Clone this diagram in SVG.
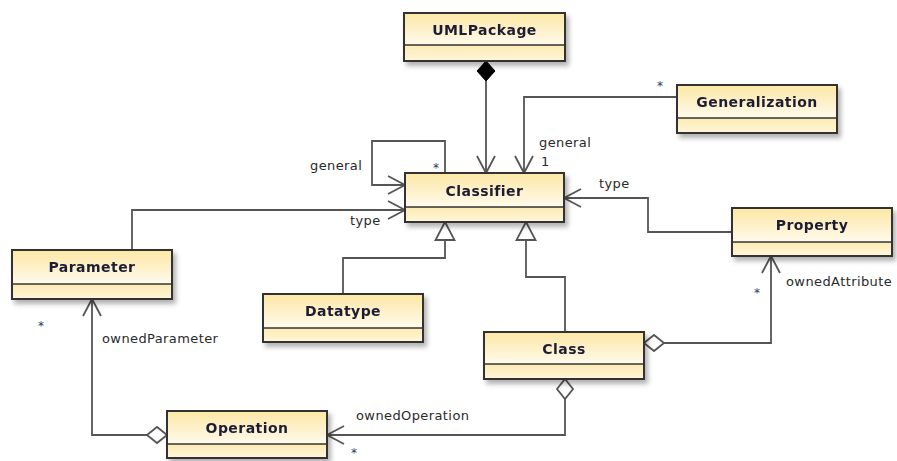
<svg xmlns="http://www.w3.org/2000/svg" width="897" height="461" viewBox="0 0 897 461">
  <defs>
    <style>
      .node .head { fill: url(#headFill); }
      .node .body { fill: url(#bodyFill); }
      .node .frame { fill: none; stroke: #333; stroke-width: 2; }
      .node .div { stroke: #333; stroke-width: 1.6; }
      .node .name { font-family: "DejaVu Sans", Verdana, sans-serif; font-weight: bold; font-size: 14px; letter-spacing: 0.45px; fill: #1c1c34; text-anchor: middle; }
      .edge { fill: none; stroke: #555; stroke-width: 1.8; }
      .lbl { font-family: "DejaVu Sans", Verdana, sans-serif; font-size: 13px; letter-spacing: 0.4px; fill: #2a2a2a; }
      .mult { font-family: "DejaVu Sans", Verdana, sans-serif; font-size: 12px; fill: #2b3b66; text-anchor: middle; }
    </style>
    <linearGradient id="headFill" x1="0" y1="0" x2="0" y2="1">
      <stop offset="0" stop-color="#fce7a4"/>
      <stop offset="1" stop-color="#fffaec"/>
    </linearGradient>
    <linearGradient id="bodyFill" x1="0" y1="0" x2="0" y2="1">
      <stop offset="0" stop-color="#fcebb2"/>
      <stop offset="1" stop-color="#fff6da"/>
    </linearGradient>
    <filter id="shadow" x="-10%" y="-20%" width="130%" height="160%">
      <feDropShadow dx="3" dy="4" stdDeviation="2.5" flood-color="#000" flood-opacity="0.3"/>
    </filter>
    <!-- navigable end: open arrow -->
    <marker id="open" viewBox="-20 -11 22 22" markerWidth="22" markerHeight="22" refX="0" refY="0" markerUnits="userSpaceOnUse" orient="auto">
      <path d="M-17,-9 L0,0 L-17,9" fill="none" stroke="#555" stroke-width="1.8"/>
    </marker>
    <!-- generalization: hollow triangle -->
    <marker id="tri" viewBox="-20 -11 22 22" markerWidth="22" markerHeight="22" refX="0" refY="0" markerUnits="userSpaceOnUse" orient="auto">
      <path d="M0,0 L-18,-9.5 L-18,9.5 Z" fill="#fff" stroke="#555" stroke-width="1.8"/>
    </marker>
    <!-- aggregation: hollow diamond -->
    <marker id="agg" viewBox="-2 -11 26 22" markerWidth="26" markerHeight="22" refX="0" refY="0" markerUnits="userSpaceOnUse" orient="auto">
      <path d="M0,0 L10,-8 L20,0 L10,8 Z" fill="#fff" stroke="#555" stroke-width="1.8"/>
    </marker>
    <!-- composition: filled diamond -->
    <marker id="comp" viewBox="-2 -11 26 22" markerWidth="26" markerHeight="22" refX="0" refY="0" markerUnits="userSpaceOnUse" orient="auto">
      <path d="M0,0 L10,-9 L20,0 L10,9 Z" fill="#000" stroke="#000" stroke-width="1"/>
    </marker>
  </defs>

  <rect width="897" height="461" fill="#fff"/>

  <!-- connectors -->
  <g id="connectors">
    <path class="edge" d="M486 61 L486 173" marker-start="url(#comp)" marker-end="url(#open)"/>
    <path class="edge" d="M677 97 L524 97 L524 173" marker-end="url(#open)"/>
    <path class="edge" d="M445 173 L445 141 L372 141 L372 185 L405 185" marker-end="url(#open)"/>
    <path class="edge" d="M132 250 L132 210 L405 210" marker-end="url(#open)"/>
    <path class="edge" d="M732 232 L648 232 L648 198 L564 198" marker-end="url(#open)"/>
    <path class="edge" d="M343 294 L343 258 L445 258 L445 222" marker-end="url(#tri)"/>
    <path class="edge" d="M565 332 L565 277 L526 277 L526 222" marker-end="url(#tri)"/>
    <path class="edge" d="M644 343 L771 343 L771 256" marker-start="url(#agg)" marker-end="url(#open)"/>
    <path class="edge" d="M565 379 L565 435 L327 435" marker-start="url(#agg)" marker-end="url(#open)"/>
    <path class="edge" d="M167 435 L92 435 L92 299" marker-start="url(#agg)" marker-end="url(#open)"/>

    <text class="lbl" x="310" y="170">general</text>
    <text class="mult" x="436" y="172">*</text>
    <text class="lbl" x="539" y="147">general</text>
    <text class="lbl" x="541" y="166">1</text>
    <text class="mult" x="660" y="90">*</text>
    <text class="lbl" x="599" y="188">type</text>
    <text class="lbl" x="350" y="225">type</text>
    <text class="lbl" x="786" y="286">ownedAttribute</text>
    <text class="mult" x="757" y="297">*</text>
    <text class="lbl" x="102" y="343">ownedParameter</text>
    <text class="mult" x="41" y="330">*</text>
    <text class="lbl" x="356" y="420">ownedOperation</text>
    <text class="mult" x="354" y="457">*</text>
  </g>

  <!-- classes -->
  <g id="n-umlpackage" class="node" transform="translate(404 13)" filter="url(#shadow)">
    <rect class="head" width="161" height="32"/>
    <rect class="body" y="32" width="161" height="16"/>
    <rect class="frame" width="161" height="48"/>
    <line class="div" x1="0" y1="32" x2="161" y2="32"/>
    <text class="name" x="80.5" y="22">UMLPackage</text>
  </g>

  <g id="n-classifier" class="node" transform="translate(405 173)" filter="url(#shadow)">
    <rect class="head" width="159" height="34"/>
    <rect class="body" y="34" width="159" height="15"/>
    <rect class="frame" width="159" height="49"/>
    <line class="div" x1="0" y1="34" x2="159" y2="34"/>
    <text class="name" x="79.5" y="23">Classifier</text>
  </g>

  <g id="n-generalization" class="node" transform="translate(677 85)" filter="url(#shadow)">
    <rect class="head" width="160" height="33"/>
    <rect class="body" y="33" width="160" height="15"/>
    <rect class="frame" width="160" height="48"/>
    <line class="div" x1="0" y1="33" x2="160" y2="33"/>
    <text class="name" x="80" y="22">Generalization</text>
  </g>

  <g id="n-parameter" class="node" transform="translate(12 250)" filter="url(#shadow)">
    <rect class="head" width="160" height="34"/>
    <rect class="body" y="34" width="160" height="15"/>
    <rect class="frame" width="160" height="49"/>
    <line class="div" x1="0" y1="34" x2="160" y2="34"/>
    <text class="name" x="80" y="22">Parameter</text>
  </g>

  <g id="n-property" class="node" transform="translate(732 208)" filter="url(#shadow)">
    <rect class="head" width="160" height="34"/>
    <rect class="body" y="34" width="160" height="14"/>
    <rect class="frame" width="160" height="48"/>
    <line class="div" x1="0" y1="34" x2="160" y2="34"/>
    <text class="name" x="80" y="22">Property</text>
  </g>

  <g id="n-datatype" class="node" transform="translate(263 294)" filter="url(#shadow)">
    <rect class="head" width="160" height="34"/>
    <rect class="body" y="34" width="160" height="14"/>
    <rect class="frame" width="160" height="48"/>
    <line class="div" x1="0" y1="34" x2="160" y2="34"/>
    <text class="name" x="80" y="22">Datatype</text>
  </g>

  <g id="n-class" class="node" transform="translate(484 332)" filter="url(#shadow)">
    <rect class="head" width="160" height="32"/>
    <rect class="body" y="32" width="160" height="15"/>
    <rect class="frame" width="160" height="47"/>
    <line class="div" x1="0" y1="32" x2="160" y2="32"/>
    <text class="name" x="80" y="22">Class</text>
  </g>

  <g id="n-operation" class="node" transform="translate(167 411)" filter="url(#shadow)">
    <rect class="head" width="160" height="33"/>
    <rect class="body" y="33" width="160" height="14"/>
    <rect class="frame" width="160" height="47"/>
    <line class="div" x1="0" y1="33" x2="160" y2="33"/>
    <text class="name" x="80" y="22">Operation</text>
  </g>
</svg>
